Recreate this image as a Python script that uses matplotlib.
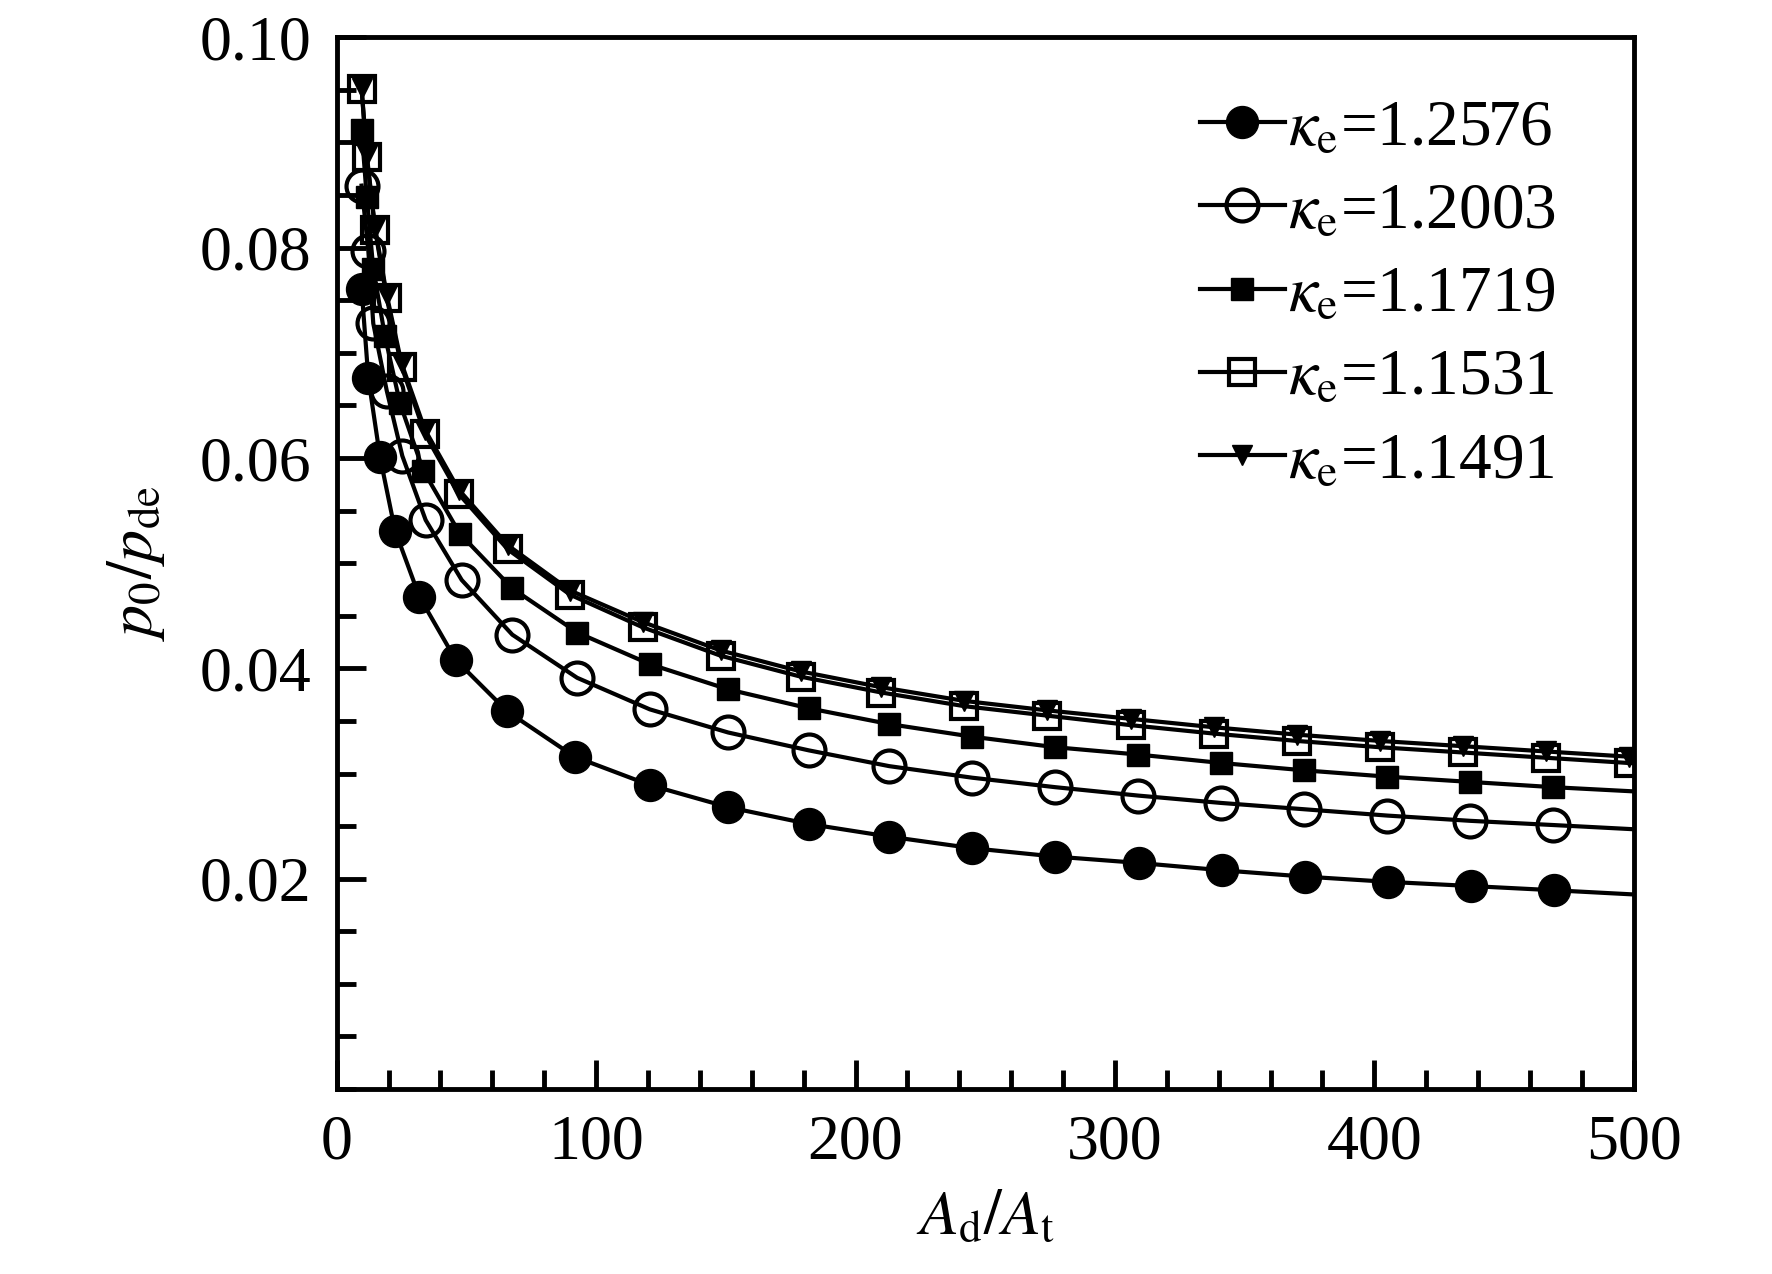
import numpy as np
import matplotlib
matplotlib.use("Agg")
import matplotlib.pyplot as plt
from matplotlib.lines import Line2D
from matplotlib.ticker import MultipleLocator

plt.rcParams['font.family'] = ['Liberation Serif', 'DejaVu Serif']
plt.rcParams['mathtext.fontset'] = 'stix'

# data
kappas = ['1.2576', '1.2003', '1.1719', '1.1531', '1.1491']

x1 = [9.6, 12.2, 16.7, 22.5, 31.9, 45.9, 65.8, 91.7, 120.7, 150.9, 182, 213, 244.9, 277, 309.1, 341.2, 373.1, 405.2, 437.3, 469.2]
y1 = [0.0761, 0.0676, 0.0601, 0.0531, 0.0468, 0.0408, 0.0359, 0.0316, 0.0289, 0.0268, 0.0252, 0.0240, 0.0229, 0.0221, 0.0215, 0.0208, 0.0202, 0.0197, 0.0193, 0.0189]

x2 = [9.6, 12.2, 14.1, 19.3, 25.3, 34.3, 48.2, 67.7, 92.7, 120.7, 150.9, 182, 213, 245, 277, 309, 341, 373, 405, 437, 469]
y2 = [0.0859, 0.0797, 0.0728, 0.0664, 0.0602, 0.0541, 0.0484, 0.0432, 0.0391, 0.0361, 0.0339, 0.0322, 0.0307, 0.0296, 0.0287, 0.0279, 0.0272, 0.0266, 0.0260, 0.0255, 0.0251]

x3 = [9.6, 11.6, 14.1, 18.6, 24.4, 33.4, 47.5, 67.7, 92.8, 120.7, 150.9, 182, 213, 245, 277, 309, 341, 373, 405, 437, 469]
y3 = [0.0912, 0.0848, 0.0780, 0.0716, 0.0652, 0.0588, 0.0528, 0.0476, 0.0434, 0.0404, 0.0380, 0.0362, 0.0347, 0.0335, 0.0325, 0.0318, 0.0310, 0.0303, 0.0297, 0.0292, 0.0287]

x4 = [9.6, 11.6, 14.8, 19.3, 25, 34, 47, 66, 90, 118, 148, 179, 210, 242, 274, 306, 338, 370, 402, 434, 466, 498]
y4 = [0.0951, 0.0886, 0.0817, 0.0752, 0.0687, 0.0623, 0.0566, 0.0513, 0.0470, 0.0439, 0.0412, 0.0392, 0.0377, 0.0364, 0.0355, 0.0346, 0.0338, 0.0331, 0.0325, 0.0320, 0.0315, 0.0310]

x5 = x4
y5 = [0.0952, 0.0888, 0.0819, 0.0755, 0.0690, 0.0627, 0.0570, 0.0517, 0.0474, 0.0444, 0.0417, 0.0397, 0.0382, 0.0369, 0.0360, 0.0352, 0.0344, 0.0337, 0.0331, 0.0326, 0.0321, 0.0316]

# where the fitted curves end at x = 500
x_end = 500
y_end = [0.0185, 0.0247, 0.0283, 0.0310, 0.0316]

xs = [x1, x2, x3, x4, x5]
ys = [y1, y2, y3, y4, y5]
styles = [
    dict(marker='o', ms=23, mfc='black', mec='black', mew=1),
    dict(marker='o', ms=23, mfc='none', mec='black', mew=3),
    dict(marker='s', ms=16.5, mfc='black', mec='black', mew=1),
    dict(marker='s', ms=18.5, mfc='none', mec='black', mew=3),
    dict(marker='v', ms=15, mfc='black', mec='black', mew=1),
]

fig = plt.figure(figsize=(17.72, 12.74), dpi=100)
ax = fig.add_axes([0.190, 0.1452, 0.732, 0.8255])

handles = []
for i in range(5):
    lx = list(xs[i]) + [x_end]
    ly = list(ys[i]) + [y_end[i]]
    ax.plot(lx, ly, '-', color='black', lw=3, zorder=2)
    ax.plot(xs[i], ys[i], ls='none', zorder=3, **styles[i])
    handles.append(Line2D([], [], color='black', lw=3, **styles[i]))

labels = [r'$\kappa_\mathrm{e}$=' + k for k in kappas]
ax.legend(handles, labels, loc='upper left', bbox_to_anchor=(0.677, 0.922),
          bbox_transform=fig.transFigure, frameon=False, fontsize=47,
          numpoints=1, handlelength=1.3, handletextpad=0.05,
          labelspacing=0.36, borderpad=0, borderaxespad=0)

ax.set_xlim(0, 500)
ax.set_ylim(0, 0.1)
ax.xaxis.set_major_locator(MultipleLocator(100))
ax.xaxis.set_minor_locator(MultipleLocator(20))
ax.yaxis.set_major_locator(MultipleLocator(0.02))
ax.yaxis.set_minor_locator(MultipleLocator(0.005))
ax.set_yticks([0.02, 0.04, 0.06, 0.08, 0.10])
ax.set_yticklabels(['0.02', '0.04', '0.06', '0.08', '0.10'])

ax.tick_params(which='both', direction='in', top=False, right=False,
               labelsize=46, width=3.5, pad=18)
ax.tick_params(which='major', length=21)
ax.tick_params(which='minor', length=13.5)
for s in ax.spines.values():
    s.set_linewidth(3.5)

ax.set_xlabel(r'$A_\mathrm{d}/A_\mathrm{t}$', fontsize=46, labelpad=13)
ax.set_ylabel(r'$p_0/p_\mathrm{de}$', fontsize=46, labelpad=24)

fig.savefig('out.png', dpi=100)
